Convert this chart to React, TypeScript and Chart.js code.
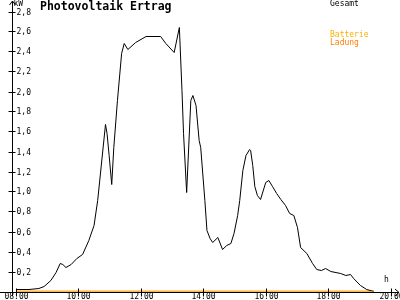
import React, { useEffect, useRef } from "react";
import { Chart, registerables } from "chart.js";

Chart.register(...registerables);

const gesamtTimes = [
  "08:00", "08:25", "08:44", "08:54", "09:07", "09:17", "09:25", "09:30", "09:36", "09:46",
  "09:57", "10:08", "10:20", "10:30", "10:37", "10:52", "10:55", "10:59", "11:04", "11:08",
  "11:15", "11:23", "11:28", "11:35", "11:50", "12:10", "12:38", "12:48", "13:04", "13:14",
  "13:19", "13:22", "13:28", "13:36", "13:40", "13:46", "13:52", "13:55", "14:03", "14:07",
  "14:13", "14:18", "14:28", "14:37", "14:45", "14:53", "14:59", "15:06", "15:10", "15:16",
  "15:22", "15:29", "15:31", "15:35", "15:39", "15:44", "15:50", "16:00", "16:06", "16:13",
  "16:21", "16:29", "16:38", "16:46", "16:54", "17:01", "17:07", "17:19", "17:30", "17:38",
  "17:47", "17:55", "18:05", "18:24", "18:34", "18:43", "18:49", "19:02", "19:14", "19:28",
];
const gesamtValues = [
  0.02, 0.02, 0.03, 0.05, 0.11, 0.19, 0.28, 0.27, 0.24, 0.27,
  0.33, 0.37, 0.51, 0.66, 0.91, 1.67, 1.58, 1.36, 1.07, 1.44,
  1.91, 2.38, 2.48, 2.42, 2.49, 2.55, 2.55, 2.48, 2.39, 2.64,
  2.01, 1.58, 0.99, 1.91, 1.96, 1.86, 1.51, 1.44, 0.91, 0.61,
  0.53, 0.49, 0.54, 0.42, 0.46, 0.48, 0.58, 0.76, 0.91, 1.21,
  1.36, 1.42, 1.41, 1.26, 1.05, 0.96, 0.92, 1.09, 1.11, 1.05,
  0.98, 0.92, 0.86, 0.78, 0.76, 0.64, 0.44, 0.38, 0.28, 0.22,
  0.21, 0.23, 0.20, 0.18, 0.16, 0.17, 0.13, 0.06, 0.02, 0.00,
];
const batterieTimes = ["08:00", "19:28"];
const batterieValues = [0, 0];
const ladungTimes = ["08:00", "19:28"];
const ladungValues = [0, 0];

const yTickValues = [0.2, 0.4, 0.6, 0.8, 1.0, 1.2, 1.4, 1.6, 1.8, 2.0, 2.2, 2.4, 2.6, 2.8];
const xTickLabels = ["08:00", "10:00", "12:00", "14:00", "16:00", "18:00", "20:00"];

const TITLE = "Photovoltaik Ertrag";
const Y_UNIT = "kW";
const X_UNIT = "h";
const LEGEND = [
  { text: "Gesamt", color: "#000000" },
  { text: "Batterie", color: "#ffb000" },
  { text: "Ladung", color: "#ff8000" },
];

const toHours = (s: string) => {
  const [h, m] = s.split(":").map(Number);
  return h + m / 60;
};

const MONO = '"DejaVu Sans Mono", "Liberation Mono", monospace';

const axesPlugin = {
  id: "customAxes",
  afterDatasetsDraw(chart: any) {
    const ctx = chart.ctx as CanvasRenderingContext2D;
    const xs = chart.scales.x;
    const ys = chart.scales.y;
    const area = chart.chartArea;
    const ax = Math.round(area.left) + 0.5;
    const ay = Math.round(ys.getPixelForValue(0)) + 0.5;
    ctx.save();
    ctx.strokeStyle = "#000";
    ctx.fillStyle = "#000";
    ctx.lineWidth = 1;
    // y axis
    ctx.beginPath();
    ctx.moveTo(ax, 296);
    ctx.lineTo(ax, 1);
    ctx.moveTo(ax - 3, 5);
    ctx.lineTo(ax, 1);
    ctx.lineTo(ax + 3, 5);
    // x axis
    ctx.moveTo(0, ay);
    ctx.lineTo(399, ay);
    ctx.moveTo(395, ay - 3.5);
    ctx.lineTo(399, ay);
    ctx.lineTo(395, ay + 3.5);
    ctx.stroke();
    ctx.font = `8px ${MONO}`;
    // y ticks
    ctx.textAlign = "left";
    ctx.textBaseline = "middle";
    yTickValues.forEach((v) => {
      const py = Math.round(ys.getPixelForValue(v)) + 0.5;
      ctx.beginPath();
      ctx.moveTo(ax - 4, py);
      ctx.lineTo(ax + 3, py);
      ctx.stroke();
      ctx.fillText(v.toFixed(1).replace(".", ","), ax + 4, py + 0.5);
    });
    // x ticks
    ctx.textAlign = "center";
    ctx.textBaseline = "top";
    xTickLabels.forEach((lab) => {
      const px = Math.round(xs.getPixelForValue(toHours(lab))) + 0.5;
      ctx.beginPath();
      ctx.moveTo(px, ay - 4);
      ctx.lineTo(px, ay + 4);
      ctx.stroke();
      ctx.fillText(lab, px, 293);
    });
    // units
    ctx.textAlign = "left";
    ctx.textBaseline = "top";
    ctx.fillText(Y_UNIT, ax + 1, 0);
    ctx.fillText(X_UNIT, 384, 276);
    // legend
    const ly = [0, 31, 39];
    LEGEND.forEach((l, i) => {
      ctx.fillStyle = l.color;
      ctx.fillText(l.text, 330, ly[i]);
    });
    // title
    ctx.fillStyle = "#000";
    ctx.font = `bold 11.5px ${MONO}`;
    ctx.fillText(TITLE, 40, 1);
    ctx.restore();
  },
};

export default function App() {
  const ref = useRef<HTMLCanvasElement | null>(null);
  useEffect(() => {
    if (!ref.current) return;
    const ppm = 31.3;
    const chart = new Chart(ref.current, {
      type: "line",
      data: {
        datasets: [
          {
            label: "Gesamt",
            data: gesamtTimes.map((t, i) => ({ x: toHours(t), y: gesamtValues[i] })),
            borderColor: "#000000",
            borderWidth: 1,
            pointRadius: 0,
            tension: 0,
            fill: false,
          },
          {
            label: "Batterie",
            data: batterieTimes.map((t, i) => ({ x: toHours(t), y: batterieValues[i] })),
            borderColor: "#ffb000",
            borderWidth: 1.5,
            pointRadius: 0,
            fill: false,
          },
          {
            label: "Ladung",
            data: ladungTimes.map((t, i) => ({ x: toHours(t), y: ladungValues[i] })),
            borderColor: "#ff8000",
            borderWidth: 1.5,
            pointRadius: 0,
            fill: false,
          },
        ],
      },
      options: {
        responsive: false,
        animation: false,
        layout: { padding: { left: 11.5, right: 0.5, top: 11.5, bottom: 8.5 } },
        scales: {
          x: { type: "linear", min: 8 - 4.5 / ppm, max: 8 + (399.5 - 15) / ppm, display: false },
          y: { type: "linear", min: 0, max: 2.8, display: false },
        },
        plugins: { legend: { display: false }, tooltip: { enabled: false }, title: { display: false } },
        elements: { line: { borderCapStyle: "butt" } },
      },
      plugins: [axesPlugin],
    } as any);
    return () => chart.destroy();
  }, []);
  return (
    <div style={{ position: "fixed", left: 0, top: 0, width: 400, height: 300, background: "#fff" }}>
      <canvas ref={ref} width={400} height={300} style={{ display: "block" }} />
    </div>
  );
}
